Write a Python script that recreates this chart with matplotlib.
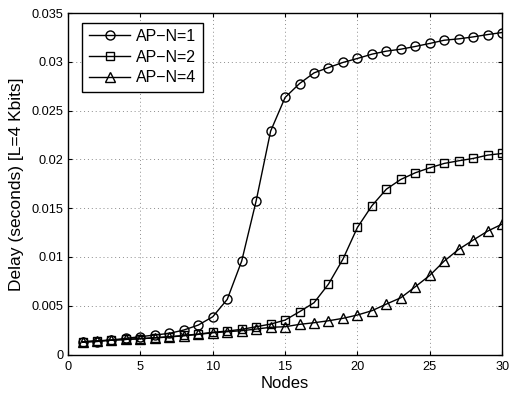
import matplotlib
matplotlib.use("Agg")
import matplotlib.pyplot as plt

nodes = list(range(1, 31))
ap_n1 = [0.00125, 0.00133, 0.00149, 0.00166, 0.00183, 0.0020, 0.00217, 0.00251, 0.00302, 0.00387,
         0.00565, 0.00958, 0.01575, 0.0229, 0.02635, 0.02778, 0.02887, 0.02942, 0.02994, 0.03035,
         0.03079, 0.0311, 0.0313, 0.03158, 0.03189, 0.03222, 0.03236, 0.03256, 0.0328, 0.03301]
ap_n2 = [0.0013, 0.0014, 0.00147, 0.00155, 0.00163, 0.00172, 0.00183, 0.00195, 0.0021, 0.00227,
         0.00241, 0.00258, 0.00285, 0.00312, 0.00353, 0.00439, 0.00531, 0.00722, 0.00978, 0.01303,
         0.01525, 0.01695, 0.01795, 0.01863, 0.01914, 0.01959, 0.01986, 0.0201, 0.02044, 0.02061]
ap_n4 = [0.0013, 0.0014, 0.00147, 0.00155, 0.00162, 0.0017, 0.0018, 0.00192, 0.00206, 0.00223,
         0.00234, 0.00244, 0.00261, 0.00279, 0.00285, 0.00309, 0.00326, 0.00346, 0.00371, 0.00405,
         0.00449, 0.00517, 0.00582, 0.00695, 0.00811, 0.00958, 0.01078, 0.01173, 0.01265, 0.01337]
labels = ["AP\u2212N=1", "AP\u2212N=2", "AP\u2212N=4"]
xticks = [0, 5, 10, 15, 20, 25, 30]
yticks = [0, 0.005, 0.01, 0.015, 0.02, 0.025, 0.03, 0.035]
ytick_labels = ["0", "0.005", "0.01", "0.015", "0.02", "0.025", "0.03", "0.035"]

plt.rcParams['font.family'] = ['Liberation Sans', 'DejaVu Sans']

fig = plt.figure(figsize=(5.10, 3.97), dpi=100)
ax = fig.add_axes([0.1335, 0.107, 0.851, 0.86])

ax.plot(nodes, ap_n1, color='black', lw=1.0, marker='o', ms=6.5, mfc='none', mew=1.0, label=labels[0])
ax.plot(nodes, ap_n2, color='black', lw=1.0, marker='s', ms=6, mfc='none', mew=1.0, label=labels[1])
ax.plot(nodes, ap_n4, color='black', lw=1.0, marker='^', ms=7, mfc='none', mew=1.0, label=labels[2])

ax.set_xlim(0, 30)
ax.set_ylim(0, 0.035)
ax.set_xticks(xticks)
ax.set_yticks(yticks)
ax.set_yticklabels(ytick_labels)
ax.tick_params(direction='in', top=True, right=True, labelsize=9.2, length=3, width=0.8)
ax.tick_params(axis='x', pad=5)
ax.tick_params(axis='y', pad=3.5)
ax.grid(True, linestyle=(0, (1, 3)), color='0.55', linewidth=0.7)
for s in ax.spines.values():
    s.set_linewidth(1.0)

ax.set_xlabel("Nodes", fontsize=12, labelpad=2)
ax.set_ylabel("Delay (seconds) [L=4 Kbits]", fontsize=12.5, labelpad=5)

leg = ax.legend(loc='upper left', bbox_to_anchor=(0.033, 0.972), borderaxespad=0,
                fontsize=11.5, handlelength=2.6, fancybox=False,
                edgecolor='black', framealpha=1, borderpad=0.4, labelspacing=0.35,
                handletextpad=0.35)
leg.get_frame().set_linewidth(1.0)

fig.savefig("out.png", dpi=100)
